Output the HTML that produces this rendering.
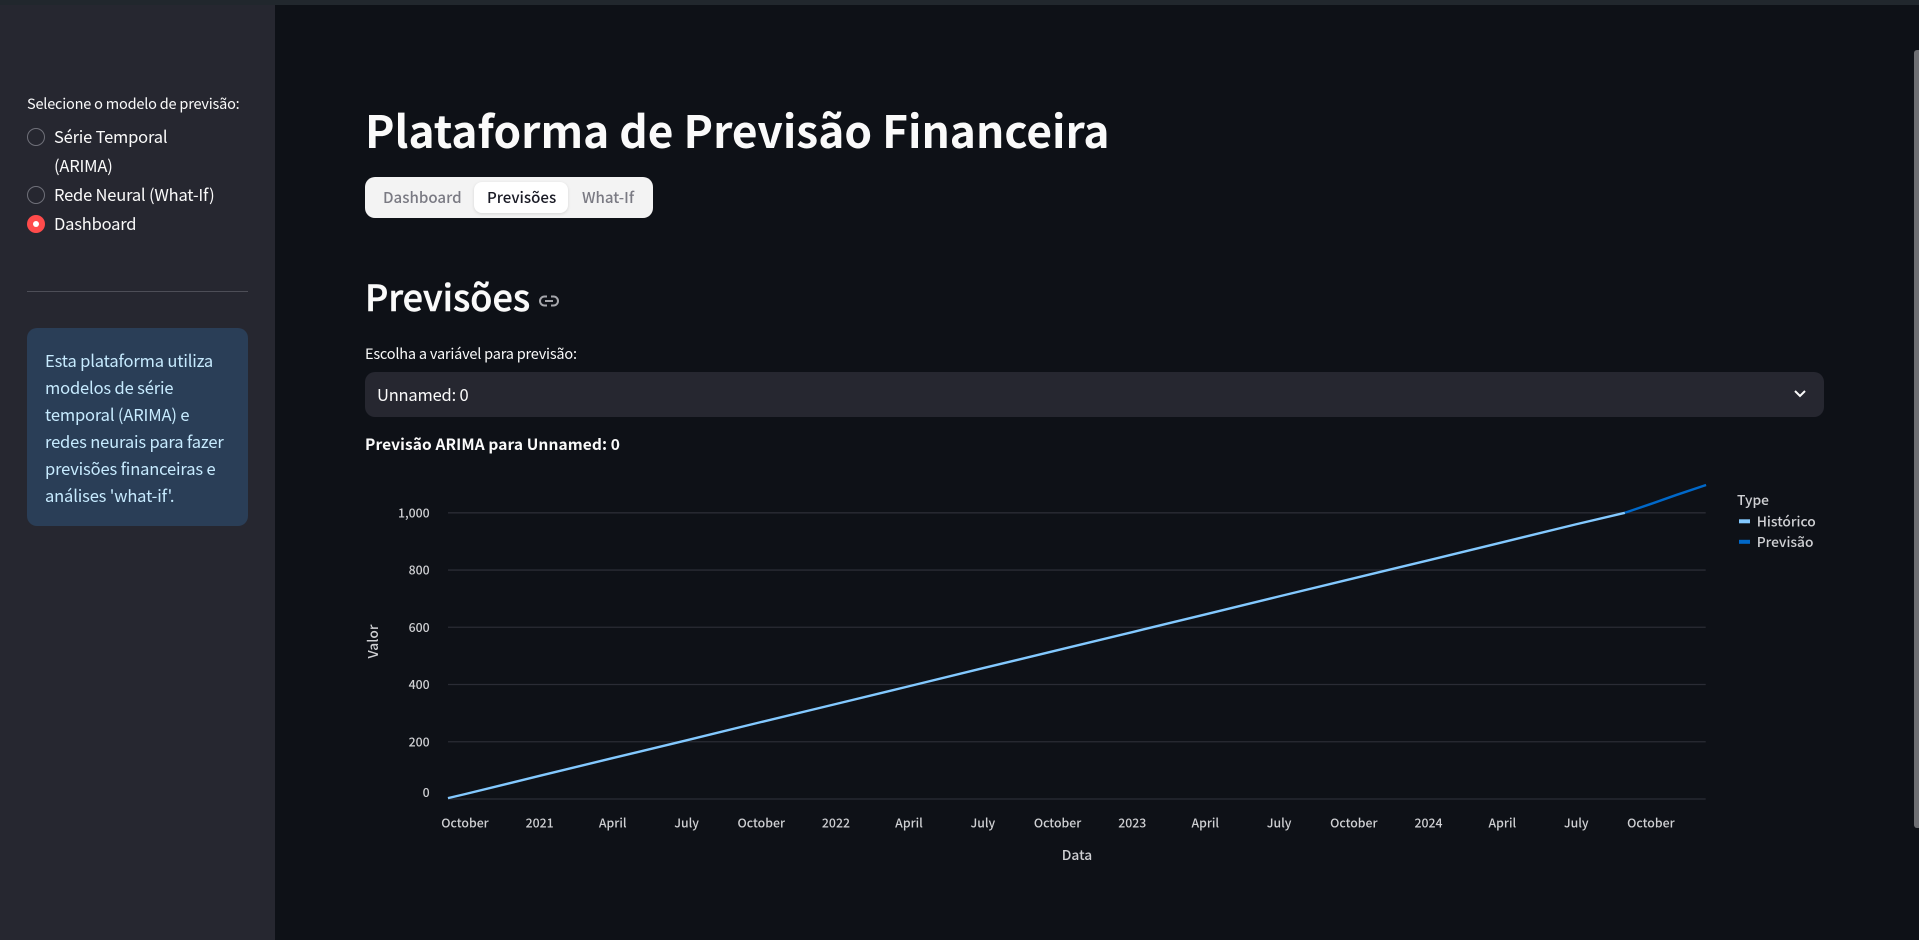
<!DOCTYPE html>
<html lang="pt">
<head>
<meta charset="utf-8">
<title>Plataforma de Previsão Financeira</title>
<style>
html,body{margin:0;padding:0;width:1919px;height:940px;overflow:hidden;background:#0e1117}
body{position:relative;font-family:"Noto Sans CJK JP","Liberation Sans",sans-serif;color:#fafafa}
.abs{position:absolute}
.t{position:absolute;white-space:nowrap;line-height:1}
.radio-text{font-size:16.5px;letter-spacing:-.19px;color:#fafafa}
.info-text{font-size:16.5px;letter-spacing:-.15px;color:#c7ebff}
.tab-text{font-size:15.1px;font-weight:500}
svg text{font-family:"Noto Sans CJK JP","Liberation Sans",sans-serif;font-weight:500}
</style>
</head>
<body>
<div class="abs" style="left:0;top:0;width:1919px;height:5px;background:#21272d"></div>

<aside class="abs" style="left:0;top:5px;width:275px;height:935px;background:#262730"></aside>
<div class="t" style="left:27px;top:97px;font-size:14.5px;letter-spacing:-.2px;color:#fafafa">Selecione o modelo de previsão:</div>

<div class="abs" style="left:27px;top:128px;width:16px;height:16px;border:1px solid #6f7079;border-radius:50%"></div>
<div class="t radio-text" style="left:54px;top:128px">Série Temporal</div>
<div class="t radio-text" style="left:54px;top:157px">(ARIMA)</div>

<div class="abs" style="left:27px;top:186px;width:16px;height:16px;border:1px solid #6f7079;border-radius:50%"></div>
<div class="t radio-text" style="left:54px;top:186px">Rede Neural (What-If)</div>

<div class="abs" style="left:27px;top:215px;width:18px;height:18px;background:#ff4b4b;border-radius:50%"><div class="abs" style="left:6px;top:6px;width:6px;height:6px;background:#fff;border-radius:50%"></div></div>
<div class="t radio-text" style="left:54px;top:215px">Dashboard</div>

<div class="abs" style="left:27px;top:291px;width:221px;height:1px;background:#4d4e57"></div>

<div class="abs" style="left:27px;top:328px;width:221px;height:198px;background:#2a3e57;border-radius:10px"></div>
<div class="t info-text" style="left:45px;top:352px">Esta plataforma utiliza</div>
<div class="t info-text" style="left:45px;top:379px">modelos de série</div>
<div class="t info-text" style="left:45px;top:406px">temporal (ARIMA) e</div>
<div class="t info-text" style="left:45px;top:433px">redes neurais para fazer</div>
<div class="t info-text" style="left:45px;top:460px">previsões financeiras e</div>
<div class="t info-text" style="left:45px;top:487px">análises 'what-if'.</div>

<h1 class="t" style="margin:0;left:365px;top:107px;font-size:44.25px;font-weight:700;color:#fafafa">Plataforma de Previsão Financeira</h1>

<div class="abs" style="left:365px;top:177px;width:288px;height:41px;background:#f3f3f3;border-radius:10px"></div>
<div class="abs" style="left:474px;top:182px;width:94px;height:31px;background:#fff;border-radius:8px;box-shadow:0 1px 3px rgba(0,0,0,.12)"></div>
<div class="t tab-text" style="left:383px;top:190px;color:#7a7a83">Dashboard</div>
<div class="t tab-text" style="left:487px;top:190px;color:#1a1b26">Previsões</div>
<div class="t tab-text" style="left:582px;top:190px;color:#7a7a83">What-If</div>

<h2 class="t" style="margin:0;left:365px;top:278px;font-size:36px;font-weight:500;-webkit-text-stroke:.5px #fafafa;color:#fafafa">Previsões</h2>
<svg class="abs" style="left:538px;top:293px" width="22" height="16" viewBox="0 0 22 16">
<rect x="2" y="3.5" width="18" height="9" rx="4.5" fill="none" stroke="#a6a7ac" stroke-width="2"/>
<line x1="7" y1="8" x2="15" y2="8" stroke="#a6a7ac" stroke-width="2"/>
<rect x="9" y="2" width="4" height="3" fill="#0e1117"/>
<rect x="9" y="11" width="4" height="3" fill="#0e1117"/>
</svg>

<div class="t" style="left:365px;top:347px;font-size:14.5px;letter-spacing:-.2px;color:#fafafa">Escolha a variável para previsão:</div>
<div class="abs" style="left:365px;top:372px;width:1459px;height:45px;background:#262730;border-radius:10px"></div>
<div class="t" style="left:377px;top:386px;font-size:16.5px;letter-spacing:-.2px;color:#fafafa">Unnamed: 0</div>
<svg class="abs" style="left:1793px;top:389px" width="14" height="10" viewBox="0 0 14 10"><path d="M2 2 L7 7 L12 2" fill="none" stroke="#fafafa" stroke-width="2"/></svg>

<div class="t" style="left:365px;top:437px;font-size:15.5px;letter-spacing:.1px;font-weight:700;color:#fafafa">Previsão ARIMA para Unnamed: 0</div>

<svg id="chart" class="abs" style="left:0;top:0" width="1919" height="940" viewBox="0 0 1919 940"></svg>

<div class="abs" style="left:1914px;top:50px;width:5px;height:778px;background:#6e6f73;border-radius:3px 0 0 3px"></div>

<script>
const tickDates = ["2020-10-01","2021-01-01","2021-04-01","2021-07-01","2021-10-01","2022-01-01","2022-04-01","2022-07-01","2022-10-01","2023-01-01","2023-04-01","2023-07-01","2023-10-01","2024-01-01","2024-04-01","2024-07-01","2024-10-01"];
const tickLabels = ["October","2021","April","July","October","2022","April","July","October","2023","April","July","October","2024","April","July","October"];
const yTicks = [0,200,400,600,800,1000];
const historyDates = ["2020-09-10","2020-10-01","2021-01-01","2021-04-01","2021-07-01","2021-10-01","2022-01-01","2022-04-01","2022-07-01","2022-10-01","2023-01-01","2023-04-01","2023-07-01","2023-10-01","2024-01-01","2024-04-01","2024-07-01","2024-08-30"];
const historyValues = [3,17,81,143,205,269,332,394,457,520,583,645,708,771,834,897,960,1000];
const forecastDates = ["2024-08-30","2024-10-01","2024-11-01","2024-12-08"];
const forecastValues = [1000,1031,1062,1097];
const seriesNames = ["Histórico","Previsão"];
const seriesColors = ["#83c9ff","#0068c9"];

const NS = "http://www.w3.org/2000/svg";
const svg = document.getElementById("chart");
const plotLeft = 448, plotRight = 1705.7, zeroY = 799, unitY = 0.2862;
const originDate = Date.parse("2020-10-01"), originX = 465, pxPerDay = 0.8117;

function xScale(dateText){
  return originX + (Date.parse(dateText) - originDate) / 86400000 * pxPerDay;
}
function yScale(value){
  return zeroY - value * unitY;
}
function addText(parent, content, x, y, size, anchor, fill){
  const el = document.createElementNS(NS, "text");
  el.setAttribute("x", x);
  el.setAttribute("y", y);
  el.setAttribute("font-size", size);
  el.setAttribute("text-anchor", anchor);
  el.setAttribute("fill", fill);
  el.textContent = content;
  parent.appendChild(el);
  return el;
}
const labelColor = "#cfd0d3";

yTicks.forEach(function(tick){
  const y = yScale(tick);
  const grid = document.createElementNS(NS, "line");
  grid.setAttribute("x1", plotLeft);
  grid.setAttribute("x2", plotRight);
  grid.setAttribute("y1", y);
  grid.setAttribute("y2", y);
  grid.setAttribute("stroke", "#2a2c35");
  grid.setAttribute("stroke-width", "1.3");
  
  
  svg.appendChild(grid);
  const labelY = tick === 0 ? y - 2 : y + 4.5;
  const label = addText(svg, tick.toLocaleString("en-US"), 429.7, labelY, 12.3, "end", labelColor);
  
  
});

tickDates.forEach(function(dateText, i){
  const label = addText(svg, tickLabels[i], xScale(dateText), 827.5, 12.3, "middle", labelColor);
  
  
});

function drawSeries(dates, values, color){
  const points = dates.map(function(d, i){ return xScale(d).toFixed(2) + "," + yScale(values[i]).toFixed(2); });
  const line = document.createElementNS(NS, "polyline");
  line.setAttribute("points", points.join(" "));
  line.setAttribute("fill", "none");
  line.setAttribute("stroke", color);
  line.setAttribute("stroke-width", "2.4");
  svg.appendChild(line);
  return line;
}
const historyLine = drawSeries(historyDates, historyValues, seriesColors[0]);


const forecastLine = drawSeries(forecastDates, forecastValues, seriesColors[1]);



const yTitle = addText(svg, "Valor", 0, 0, 13.8, "middle", labelColor);
yTitle.setAttribute("transform", "translate(378,641.5) rotate(-90)");


const xTitle = addText(svg, "Data", 1077, 860, 13.8, "middle", labelColor);



const legendTitle = addText(svg, "Type", 1737, 505, 13.8, "start", labelColor);


seriesNames.forEach(function(name, i){
  const y = 521.3 + i * 20.5;
  const symbol = document.createElementNS(NS, "line");
  symbol.setAttribute("x1", 1739);
  symbol.setAttribute("x2", 1750);
  symbol.setAttribute("y1", y);
  symbol.setAttribute("y2", y);
  symbol.setAttribute("stroke", seriesColors[i]);
  symbol.setAttribute("stroke-width", "4");
  
  
  svg.appendChild(symbol);
  const entry = addText(svg, name, 1756.7, y + 5, 13.8, "start", labelColor);
  
  
});
</script>
</body>
</html>
